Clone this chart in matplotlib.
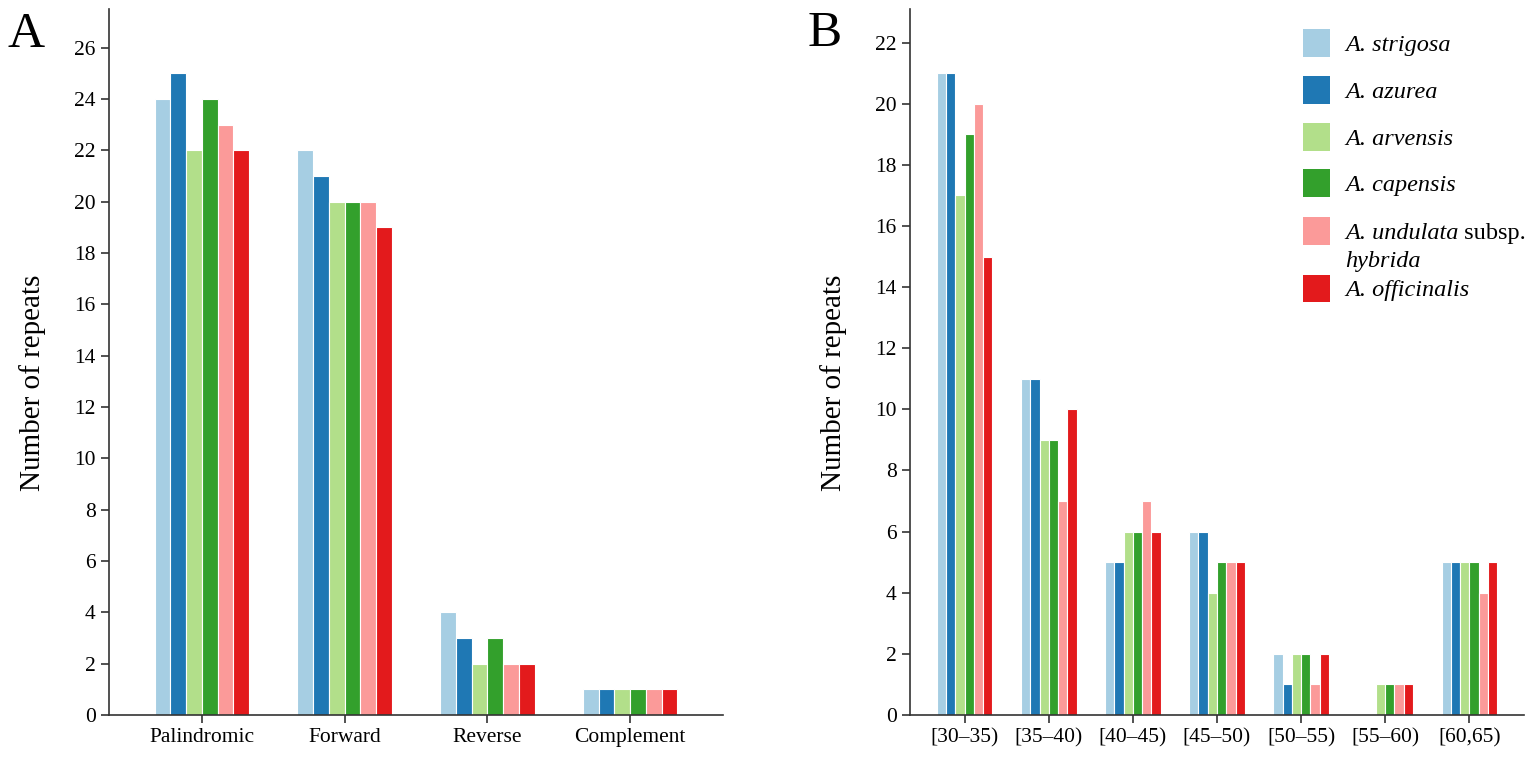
import matplotlib
matplotlib.use("Agg")
import numpy as np
import matplotlib.pyplot as plt
from matplotlib.patches import Rectangle

plt.rcParams['font.family'] = ['Liberation Serif', 'DejaVu Serif']

# species and colours
species = ["A. strigosa", "A. azurea", "A. arvensis", "A. capensis",
           "A. undulata", "A. officinalis"]
colors = ["#a6cee3", "#1f78b4", "#b2df8a", "#33a02c", "#fb9a99", "#e31a1c"]

# panel A: repeat types
types = ["Palindromic", "Forward", "Reverse", "Complement"]
type_counts = [
    [24, 22, 4, 1],   # strigosa
    [25, 21, 3, 1],   # azurea
    [22, 20, 2, 1],   # arvensis
    [24, 20, 3, 1],   # capensis
    [23, 20, 2, 1],   # undulata
    [22, 19, 2, 1],   # officinalis
]

# panel B: repeat lengths
lengths = ["[30\u201335)", "[35\u201340)", "[40\u201345)", "[45\u201350)",
           "[50\u201355)", "[55\u201360)", "[60,65)"]
length_counts = [
    [21, 11, 5, 6, 2, 0, 5],
    [21, 11, 5, 6, 1, 0, 5],
    [17, 9, 6, 4, 2, 1, 5],
    [19, 9, 6, 5, 2, 1, 5],
    [20, 7, 7, 5, 1, 1, 4],
    [15, 10, 6, 5, 2, 1, 5],
]

W, H = 1533, 757
fig = plt.figure(figsize=(W / 100, H / 100), dpi=100)


def fx(px):
    return px / W


def fy(py):
    return 1 - py / H


# axes placed in pixel terms (left spine, right end, top, bottom)
axA = fig.add_axes([fx(109), fy(715), fx(723 - 109), (715 - 9) / H])
axB = fig.add_axes([fx(910), fy(715), fx(1524 - 910), (715 - 9) / H])

bw = 0.11


def draw(ax, cats, counts, ymax):
    x = np.arange(len(cats))
    for i, vals in enumerate(counts):
        off = (i - 2.5) * bw
        ax.bar(x + off, vals, bw, color=colors[i], edgecolor="white", linewidth=0.8)
    ax.set_xticks(x)
    ax.set_xticklabels(cats)
    ax.set_xlim(-0.65, len(cats) - 0.35)
    ax.set_ylim(0, ymax * 1.1)
    ax.set_yticks(np.arange(0, ymax * 1.1, 2))
    ax.tick_params(axis="both", labelsize=15.5, color="#333333", width=1.2, length=6)
    for s in ["top", "right"]:
        ax.spines[s].set_visible(False)
    for s in ["left", "bottom"]:
        ax.spines[s].set_color("#333333")
        ax.spines[s].set_linewidth(1.2)
    ax.set_ylabel("Number of repeats", fontsize=21)
    ax.yaxis.set_label_coords(-0.103, 0.47)


draw(axA, types, type_counts, 25)
draw(axB, lengths, length_counts, 21)

# legend for panel B, drawn by hand so the two-line entry sits like the original
row_y = [43, 90, 137, 183, 231, 288]
for i, name in enumerate(species):
    fig.add_artist(Rectangle((fx(1303), fy(row_y[i] + 13.5)), fx(27), 27 / H,
                             transform=fig.transFigure, facecolor=colors[i],
                             edgecolor="none"))
    t = fig.text(fx(1345), fy(row_y[i]), name, fontsize=17.5, style="italic",
                 va="center_baseline")
    if name == "A. undulata":
        # roman "subsp." right after the italic name, then the second line
        axB.annotate(" subsp.", xy=(1, 0), xycoords=t, fontsize=17.5,
                     va="bottom", ha="left", annotation_clip=False)
        fig.text(fx(1345), fy(row_y[i] + 28), "hybrida", fontsize=17.5,
                 style="italic", va="center_baseline")

fig.text(fx(8), fy(47), "A", fontsize=37, va="baseline")
fig.text(fx(808), fy(46), "B", fontsize=37, va="baseline")

fig.savefig("out.png", dpi=100)
